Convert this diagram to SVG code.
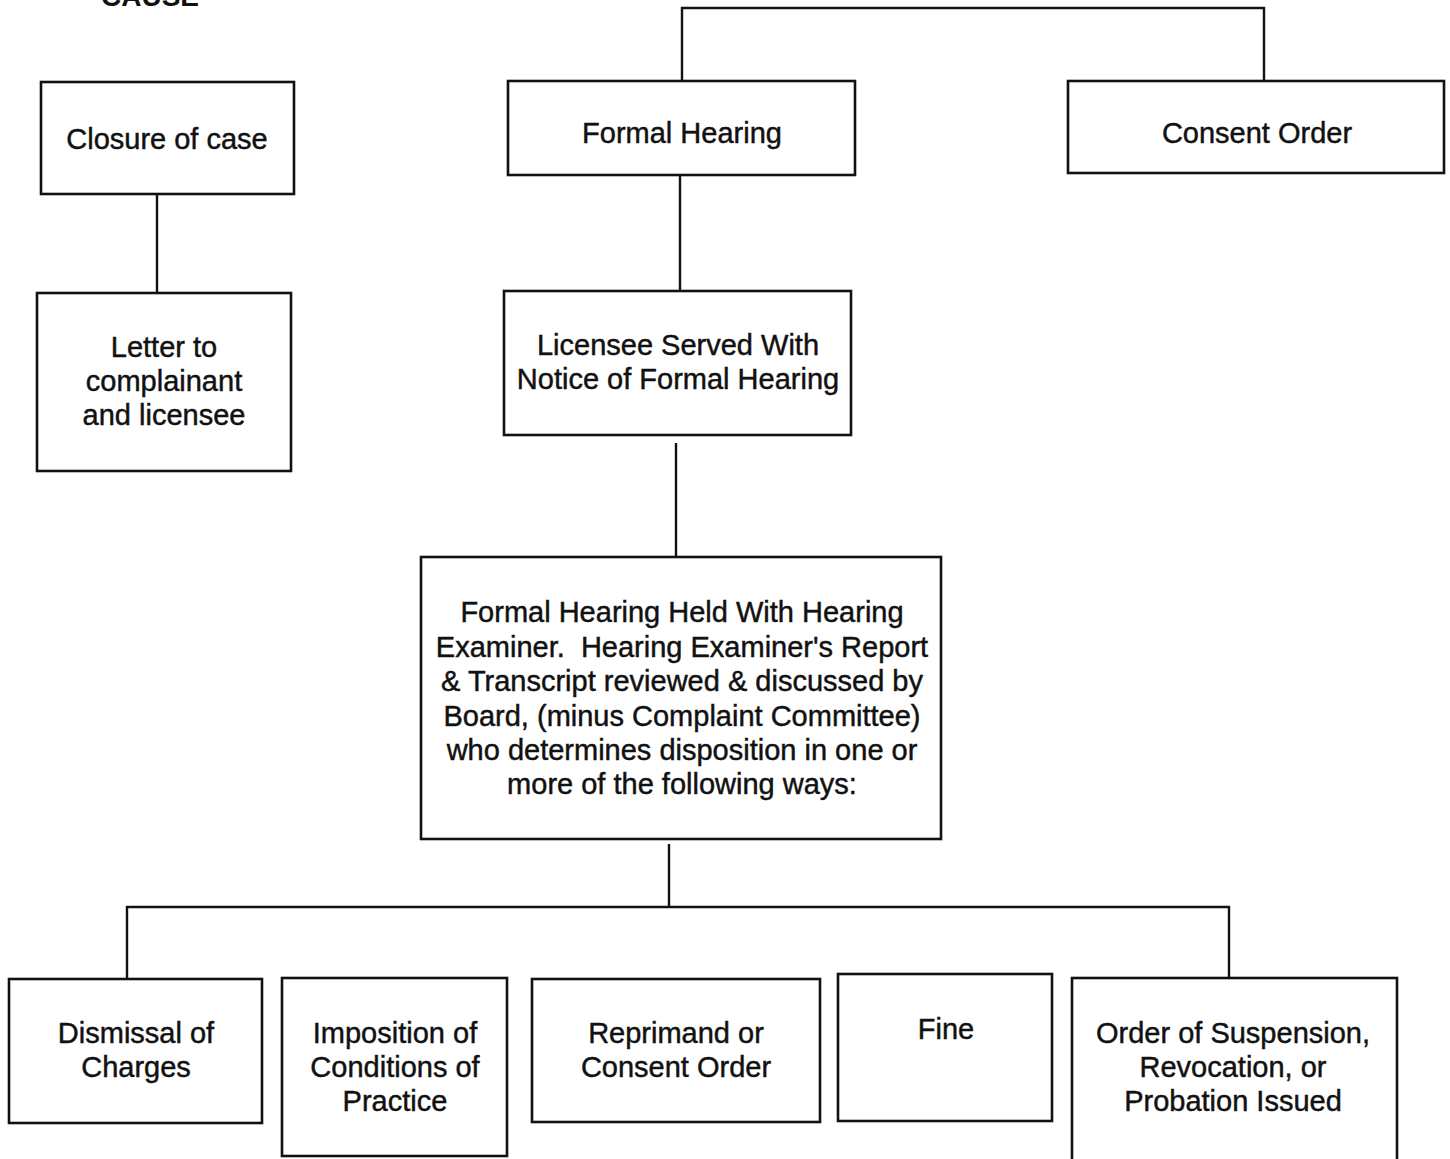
<svg xmlns="http://www.w3.org/2000/svg" width="1450" height="1159" viewBox="0 0 1450 1159">
<style>
.box{fill:#fff;stroke:#111;stroke-width:2.6}
.t{font-family:"Liberation Sans",Arial,sans-serif;font-size:29px;fill:#111;stroke:#111;stroke-width:0.45;text-anchor:middle}
.hd{font-family:"Liberation Sans",Arial,sans-serif;font-size:28px;font-weight:bold;fill:#111;text-anchor:middle}
.c{fill:none;stroke:#111;stroke-width:2.4}
</style>
<rect width="1450" height="1159" fill="#fff"/>
<text class="hd" x="150" y="6">CAUSE</text>
<g id="connectors">
<path class="c" d="M682 81 V8 H1264 V81"/>
<path class="c" d="M157 194 V293"/>
<path class="c" d="M680 175 V291"/>
<path class="c" d="M676 443 V557"/>
<path class="c" d="M669 844 V907"/>
<path class="c" d="M127 979 V907 H1229 V978"/>
</g>
<g id="closure"><rect class="box" x="41" y="82" width="253" height="112"/><text class="t" x="167" y="149">Closure of case</text></g>
<g id="letter"><rect class="box" x="37" y="293" width="254" height="178"/><text class="t" x="164" y="357">Letter to</text><text class="t" x="164" y="391">complainant</text><text class="t" x="164" y="425">and licensee</text></g>
<g id="formal"><rect class="box" x="508" y="81" width="347" height="94"/><text class="t" x="682" y="143">Formal Hearing</text></g>
<g id="consent"><rect class="box" x="1068" y="81" width="376" height="92"/><text class="t" x="1257" y="143">Consent Order</text></g>
<g id="served"><rect class="box" x="504" y="291" width="347" height="144"/><text class="t" x="678" y="355">Licensee Served With</text><text class="t" x="678" y="389">Notice of Formal Hearing</text></g>
<g id="held"><rect class="box" x="421" y="557" width="520" height="282"/>
<text class="t" x="682" y="622">Formal Hearing Held With Hearing</text>
<text class="t" x="682" y="657" xml:space="preserve">Examiner.  Hearing Examiner's Report</text>
<text class="t" x="682" y="691">&amp; Transcript reviewed &amp; discussed by</text>
<text class="t" x="682" y="726">Board, (minus Complaint Committee)</text>
<text class="t" x="682" y="760">who determines disposition in one or</text>
<text class="t" x="682" y="794">more of the following ways:</text></g>
<g id="dismissal"><rect class="box" x="9" y="979" width="253" height="144"/><text class="t" x="136" y="1043">Dismissal of</text><text class="t" x="136" y="1077">Charges</text></g>
<g id="imposition"><rect class="box" x="282" y="978" width="225" height="178"/><text class="t" x="395" y="1043">Imposition of</text><text class="t" x="395" y="1077">Conditions of</text><text class="t" x="395" y="1111">Practice</text></g>
<g id="reprimand"><rect class="box" x="532" y="979" width="288" height="143"/><text class="t" x="676" y="1043">Reprimand or</text><text class="t" x="676" y="1077">Consent Order</text></g>
<g id="fine"><rect class="box" x="838" y="974" width="214" height="147"/><text class="t" x="946" y="1039">Fine</text></g>
<g id="order"><rect class="box" x="1072" y="978" width="325" height="200"/><text class="t" x="1233" y="1043">Order of Suspension,</text><text class="t" x="1233" y="1077">Revocation, or</text><text class="t" x="1233" y="1111">Probation Issued</text></g>
</svg>
